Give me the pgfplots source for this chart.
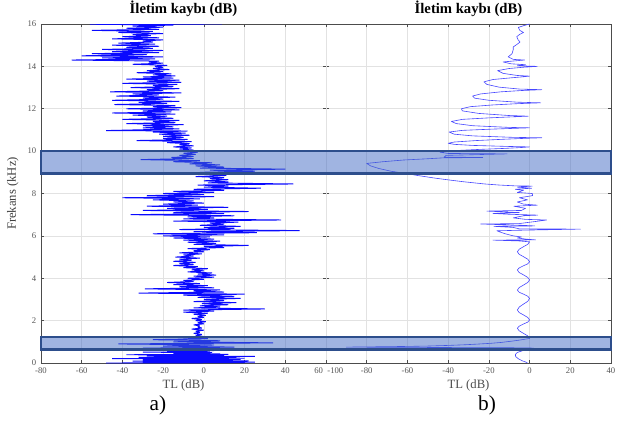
\documentclass[border=0pt]{standalone}
\usepackage{pgfplots}
\pgfplotsset{compat=1.18}
\usepackage{fontspec}
\setmainfont{Liberation Serif}
\definecolor{tickgray}{RGB}{85,85,85}
\definecolor{gridgray}{RGB}{226,226,226}
\definecolor{boxfill}{RGB}{65,105,195}
\definecolor{boxedge}{RGB}{45,78,140}
\definecolor{linea}{RGB}{10,10,255}
\definecolor{lineb}{RGB}{70,70,255}
\pgfplotsset{myax/.style={
  scale only axis, width=213.75pt, height=254.25pt,
  ymin=0, ymax=16, ytick={0,2,...,16},
  grid=major, major grid style={gridgray, line width=0.5pt},
  tick align=inside, major tick length=2.5pt,
  tick style={black!70, line width=0.5pt},
  xtick pos=both, ytick pos=both,
  ticklabel style={font=\fontsize{6.5}{7.5}\selectfont, text=tickgray},
  /pgf/number format/assume math mode=true,
  axis line style={draw=black!70, line width=0.6pt},
  title style={font=\bfseries\fontsize{11}{13}\selectfont, yshift=-4pt},
  title={İletim kaybı (dB)},
  xlabel={TL (dB)},
  xlabel style={font=\fontsize{9.5}{11}\selectfont, text=black!70, yshift=2pt},
  ylabel style={font=\fontsize{9.5}{11}\selectfont, text=black!75},
}}
\begin{document}
\begin{tikzpicture}
\useasboundingbox (-30.75pt,-50.25pt) rectangle (435.75pt,272.25pt);
\begin{axis}[myax, at={(0,0)}, anchor=south west,
  xmin=-80, xmax=60, xtick={-80,-60,...,40},
  extra x ticks={60}, extra x tick style={xticklabel style={xshift=-5.5pt}},
  ylabel={Frekans (kHz)}]
\addplot[linea, line width=0.7pt, line join=bevel, mark=none] coordinates {
(-48,0.000) (20,0.015) (-30,0.03) (25,0.045) (-25,0.06) (15,0.075) (-35,0.09) (22,0.105)
(-20,0.12) (10,0.135) (-30,0.15) (18,0.165) (-25,0.18) (12,0.195) (-45,0.21) (20,0.225)
(-15,0.24) (8,0.255) (-32,0.27) (16,0.285) (-20,0.30) (25,0.315) (-28,0.33) (10,0.345)
(-18,0.36) (5,0.375) (-38,0.39) (12,0.405) (-10,0.42) (8,0.435) (-15,0.45) (2,0.465)
(-12,0.48) (4,0.495) (-30,0.51) (0,0.525) (-8,0.54) (3,0.555) (-18,0.57) (5,0.585)
(-8,0.60) (8,0.65) (-30,0.70) (15,0.75) (-20,0.80) (5,0.85) (-42,0.90) (34,0.95)
(-15,1.00) (8,1.05) (-25,1.10) (2,1.15) (-10,1.20) (0,1.25) (-4,1.30) (-1,1.35)
(-5,1.40) (-2,1.45) (-4,1.50) (0,1.55) (-6,1.60) (-1,1.65) (-3,1.70) (-2,1.75)
(-5,1.80) (0,1.85) (-3,1.90) (1,1.95) (-4,2.00) (-1,2.05) (-6,2.10) (0,2.15)
(-3,2.20) (1,2.25) (-5,2.30) (2,2.35) (-10,2.40) (5,2.45) (-10,2.50) (30,2.55)
(-5,2.60) (8,2.65) (-2,2.70) (12,2.75) (-1,2.80) (16,2.85) (-5,2.90) (10,2.95)
(0,3.00) (18,3.05) (-3,3.10) (15,3.15) (-10,3.20) (20,3.25) (-32,3.30) (10,3.35)
(-5,3.40) (8,3.45) (-29,3.50) (5,3.55) (-12,3.60) (2,3.65) (-15,3.70) (-2,3.75)
(-18,3.80) (-5,3.85) (-10,3.90) (0,3.95) (-8,4.00) (5,4.05) (-5,4.10) (6,4.15)
(-3,4.20) (4,4.25) (-8,4.30) (0,4.35) (-6,4.40) (2,4.45) (-10,4.50) (-3,4.55)
(-15,4.60) (-5,4.65) (-12,4.70) (-4,4.75) (-15,4.80) (-6,4.85) (-12,4.90) (-2,4.95)
(-14,5.00) (-5,5.05) (-10,5.10) (-1,5.15) (-12,5.20) (0,5.25) (-5,5.30) (3,5.35)
(-8,5.40) (10,5.45) (0,5.50) (22,5.55) (-5,5.60) (6,5.65) (-8,5.70) (8,5.75)
(-10,5.80) (5,5.85) (-15,5.90) (3,5.95) (-20,6.00) (10,6.05) (-25,6.10) (26,6.15)
(-5,6.20) (47,6.25) (-12,6.30) (15,6.35) (0,6.40) (18,6.45) (-2,6.50) (10,6.55)
(3,6.60) (17,6.65) (-15,6.70) (38,6.75) (-10,6.80) (5,6.85) (-8,6.90) (15,6.95)
(-36,7.00) (10,7.05) (-15,7.10) (22,7.15) (-30,7.20) (2,7.25) (-18,7.30) (12,7.35)
(-28,7.40) (-3,7.45) (-20,7.50) (0,7.55) (-15,7.60) (-5,7.65) (-25,7.70) (-2,7.75)
(-40,7.80) (5,7.85) (-28,7.90) (0,7.95) (-20,8.00) (5,8.05) (-15,8.10) (10,8.15)
(-5,8.20) (28,8.25) (0,8.30) (12,8.35) (-3,8.40) (44,8.45) (2,8.50) (12,8.55)
(0,8.60) (12,8.65) (3,8.70) (10,8.75) (-4,8.80) (11,8.85) (2,8.90) (17,8.95)
(-2,9.00) (25,9.05) (3,9.10) (40,9.15) (-2,9.20) (10,9.25) (-4,9.30) (8,9.35)
(-7,9.40) (4,9.45) (-15,9.50) (-2,9.55) (-31,9.60) (-5,9.65) (-16,9.70) (-5,9.75)
(-12,9.80) (-4,9.85) (-10,9.90) (-3,9.95) (-9,10.00) (-5,10.05) (-12,10.10) (-6,10.15)
(-15,10.20) (-5,10.25) (-12,10.30) (-7,10.35) (-18,10.40) (-6,10.45) (-33,10.50) (-8,10.55)
(-20,10.60) (-10,10.65) (-20,10.70) (-7,10.75) (-22,10.80) (-9,10.85) (-25,10.90) (-8,10.95)
(-48,10.97) (-12,11.05) (-30,11.10) (-15,11.15) (-30,11.20) (-10,11.25) (-38,11.30) (-14,11.35)
(-25,11.40) (-12,11.45) (-40,11.50) (-15,11.55) (-28,11.60) (-18,11.65) (-35,11.70) (-14,11.75)
(-45,11.80) (-16,11.85) (-30,11.90) (-12,11.95) (-38,12.00) (-11,12.05) (-25,12.10) (-14,12.15)
(-44,12.20) (-18,12.25) (-32,12.30) (-12,12.35) (-45,12.40) (-20,12.45) (-30,12.50) (-14,12.55)
(-43,12.60) (-22,12.65) (-35,12.70) (-11,12.75) (-46,12.80) (-20,12.85) (-28,12.90) (-12,12.95)
(-36,13.00) (-15,13.05) (-25,13.10) (-13,13.15) (-40,13.20) (-11,13.25) (-28,13.30) (-12,13.35)
(-38,13.40) (-15,13.45) (-30,13.50) (-14,13.55) (-25,13.60) (-16,13.65) (-33,13.70) (-20,13.75)
(-28,13.80) (-17,13.85) (-25,13.90) (-20,13.95) (-24,14.00) (-18,14.05) (-35,14.10) (-20,14.15)
(-27,14.20) (-22,14.25) (-65,14.30) (-24,14.35) (-50,14.40) (-20,14.45) (-60,14.50) (-28,14.55)
(-55,14.60) (-22,14.65) (-45,14.70) (-20,14.75) (-50,14.80) (-25,14.85) (-38,14.90) (-22,14.95)
(-45,15.00) (-24,15.05) (-42,15.10) (-25,15.15) (-30,15.20) (-20,15.25) (-45,15.30) (-22,15.35)
(-40,15.40) (-26,15.45) (-35,15.50) (-20,15.55) (-42,15.60) (-25,15.65) (-55,15.70) (-22,15.75)
(-38,15.80) (-20,15.85) (-35,15.90) (-15,15.95) (-56,15.99) (9,16.00)
};
\end{axis}
\begin{axis}[myax, at={(213.75pt,0)}, anchor=south west, clip=false,
  xmin=-100, xmax=40, xtick={-80,-60,...,40}, yticklabels={},
  extra x ticks={-100}, extra x tick style={xticklabel style={xshift=7pt}}]
\addplot[lineb, line width=0.45pt, line join=round, mark=none] coordinates {
(-1,0.00) (-2,0.05) (-3.5,0.10) (-5.5,0.20) (-6.8,0.30) (-7,0.40) (-6,0.50) (-3.5,0.58)
(-1,0.64) (1,0.68) (2,0.70) (0,0.71) (-10,0.72) (-40,0.73) (-90,0.75) (-80,0.76)
(-62,0.78) (-50,0.80) (-40,0.83) (-32,0.86) (-26,0.89) (-19,0.93) (-14,0.97) (-11.5,1.00)
(-8,1.04) (-5,1.08) (-2.5,1.12) (0,1.16)
(-0.9,1.28) (-3,1.40) (-5.1,1.52) (-6,1.64) (-5.1,1.74) (-3,1.84) (-0.9,1.93) (0,2.03)
(-0.9,2.15) (-3,2.27) (-5.1,2.38) (-6,2.50) (-5.1,2.64) (-3,2.78) (-0.9,2.91) (0,3.05)
(-0.9,3.15) (-3,3.25) (-5.1,3.34) (-6,3.44) (-5.1,3.56) (-3,3.68) (-0.9,3.80) (0,3.92)
(-0.9,4.04) (-3,4.16) (-5.1,4.27) (-6,4.39) (-5.1,4.49) (-3,4.59) (-0.9,4.68) (0,4.78)
(-0.9,4.90) (-3,5.02) (-5.1,5.13) (-6,5.25) (-5.1,5.37) (-3,5.49) (-0.9,5.60) (0,5.72)
(-5,5.76) (-18,5.80) (3,5.81) (-2,5.85) (-6,5.90) (-4,5.95) (-8,6.00) (-12,6.10)
(-15,6.20) (-16,6.24) (-3,6.27) (25,6.32) (-5,6.33) (-8,6.40) (-17.5,6.45) (2.6,6.47)
(-4,6.50) (-24,6.56) (-5,6.58) (-2,6.62) (3,6.68) (8.4,6.75) (-2,6.78) (-8,6.85)
(-3,6.95) (4,6.98) (-10,7.02) (-18,7.06) (-5,7.10) (-21,7.17) (-4,7.20) (-2,7.30)
(-7.7,7.40) (3.8,7.45) (-3,7.50) (-6,7.60) (-1,7.70) (-5,7.80) (1.5,7.90) (1.3,8.00)
(-6,8.05) (-3,8.15) (-7,8.20) (1,8.25) (-6,8.30) (1.3,8.35) (-7,8.36) (-15,8.40)
(-22,8.45) (-27,8.50) (-32,8.55) (-38,8.62) (-46,8.72) (-55,8.85) (-61,8.95) (-68,9.05)
(-74,9.18) (-78,9.30) (-80,9.42) (-72,9.50) (-62,9.58) (-50,9.64) (-43,9.68) (-23,9.70)
(-42,9.72) (-41,9.80) (-11,9.87) (-40,9.89) (-44,9.95) (-38,10.02) (-25,10.08) (-12,10.13)
(-4,10.17) (0,10.20) (-10,10.22) (-28,10.27) (-37,10.32) (-40,10.37) (-37,10.43) (-26,10.50)
(-13,10.56) (-3,10.60) (6,10.63) (-8,10.65) (-28,10.72) (-37,10.80) (-39.5,10.90) (-33,10.98)
(-18,11.04) (-6,11.08) (0,11.10) (-10,11.12) (-28,11.20) (-36,11.30) (-38.4,11.40) (-33,11.50)
(-20,11.57) (-8,11.62) (-0.6,11.65) (-10,11.68) (-25,11.78) (-33,11.90) (-33.5,12.00) (-29,12.10)
(-18,12.18) (-6,12.24) (5.5,12.28) (-6,12.31) (-20,12.40) (-27,12.50) (-28,12.60) (-24,12.70)
(-14,12.80) (-4,12.86) (6,12.90) (-5,12.93) (-15,13.02) (-21,13.15) (-22.4,13.27) (-18,13.38)
(-9,13.46) (-3,13.51) (0,13.54) (-6,13.57) (-13,13.67) (-15.7,13.80) (-10,13.90) (-3,13.96)
(3.8,14.00) (-6,14.03) (-2,14.08) (-9,14.12) (-13,14.21) (-2.5,14.30) (-8,14.33) (-10.5,14.45)
(-8.6,14.60) (-8,14.80) (-8,14.92) (-6,15.05) (-4.7,15.15) (-5.6,15.25) (-6.3,15.40) (-5,15.50)
(-3,15.60) (-4.8,15.70) (-5.5,15.84) (-3,15.92) (0,16.00)
};
\draw[boxedge, line width=2pt, fill=boxfill, fill opacity=0.5] (axis cs:-240,8.95) rectangle (axis cs:40,10);
\draw[boxedge, line width=2pt, fill=boxfill, fill opacity=0.5] (axis cs:-240,0.64) rectangle (axis cs:40,1.22);
\end{axis}
\node[font=\fontsize{16}{18}\selectfont] at (87.75pt,-31.5pt) {a)};
\node[font=\fontsize{16}{18}\selectfont] at (334.5pt,-31.5pt) {b)};
\end{tikzpicture}
\end{document}
